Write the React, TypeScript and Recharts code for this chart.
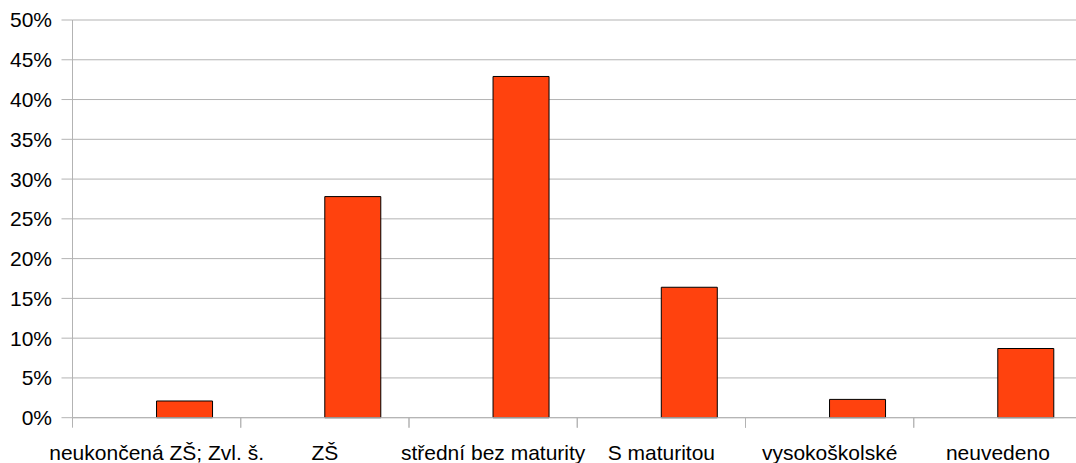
import React from "react";
import { BarChart, Bar, XAxis, YAxis, CartesianGrid } from "recharts";

const categories = [
  "neukončená ZŠ; Zvl. š.",
  "ZŠ",
  "střední bez maturity",
  "S maturitou",
  "vysokoškolské",
  "neuvedeno",
];
// first series is empty in the source chart, second one holds the shares
const emptySeries: (number | null)[] = [null, null, null, null, null, null];
const shareValues = [2.1, 27.8, 42.9, 16.4, 2.3, 8.7];
const yTicks = [0, 5, 10, 15, 20, 25, 30, 35, 40, 45, 50];

const data = categories.map((name, i) => ({
  name,
  empty: emptySeries[i],
  share: shareValues[i],
}));

const font = "'Liberation Sans', Arial, sans-serif";
const axisColor = "#b3b3b3";
const TICK_SIZE = 10;
const TICK_MARGIN = 17;

// category tick: label in the middle, tick marks on the category borders
function CategoryTick(props: any) {
  const { x, y, payload } = props;
  const half = payload?.offset ?? 0;
  const y0 = y - TICK_SIZE - TICK_MARGIN;
  return (
    <g>
      <line x1={x - half} x2={x - half} y1={y0} y2={y0 + TICK_SIZE} stroke={axisColor} />
      <line x1={x + half} x2={x + half} y1={y0} y2={y0 + TICK_SIZE} stroke={axisColor} />
      <text x={x} y={y} dy="0.71em" textAnchor="middle" fill="#000" fontSize={21} fontFamily={font}>
        {payload.value}
      </text>
    </g>
  );
}

export default function App() {
  return (
    <div style={{ position: "absolute", left: 0, top: 0, width: 1076, height: 463, overflow: "hidden", background: "#fff" }}>
      <BarChart
        width={1100}
        height={463}
        data={data}
        margin={{ top: 20, right: 18, left: 0, bottom: 0 }}
        barCategoryGap="16.667%"
        barGap={0}
        style={{ fontFamily: font }}
      >
        <CartesianGrid vertical={false} stroke={axisColor} />
        <XAxis
          dataKey="name"
          height={45.3}
          interval={0}
          tickSize={TICK_SIZE}
          tickMargin={TICK_MARGIN}
          tickLine={false}
          stroke={axisColor}
          tick={<CategoryTick />}
        />
        <YAxis
          width={72.5}
          domain={[0, 50]}
          ticks={yTicks}
          tickFormatter={(v: number) => `${v}%`}
          tickSize={11}
          tickMargin={9.5}
          stroke={axisColor}
          tick={{ fill: "#000", fontSize: 21, fontFamily: font }}
        />
        <Bar dataKey="empty" fill="none" stroke="none" isAnimationActive={false} />
        <Bar dataKey="share" fill="#ff420e" stroke="#000" strokeWidth={1} isAnimationActive={false} />
      </BarChart>
    </div>
  );
}
